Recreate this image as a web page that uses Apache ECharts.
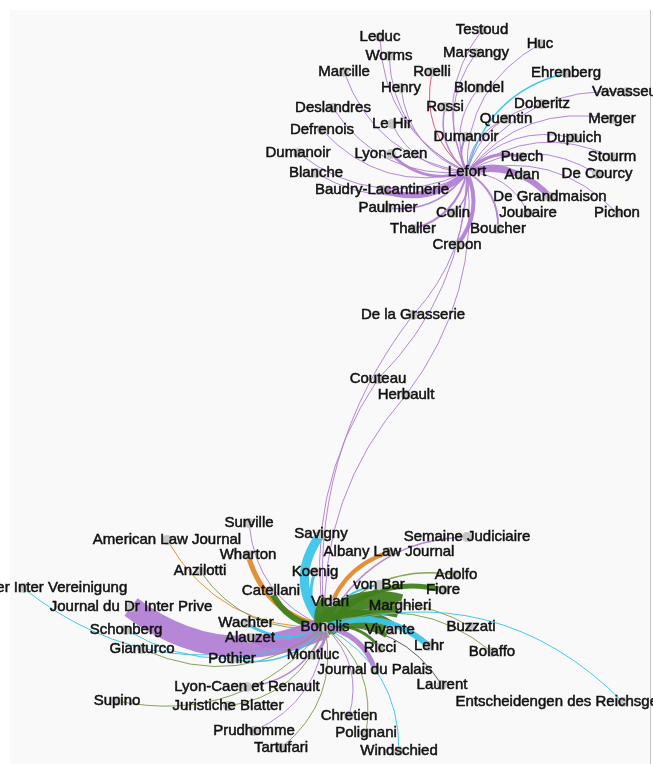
<!DOCTYPE html>
<html><head><meta charset="utf-8">
<script src="https://cdn.jsdelivr.net/npm/echarts@6/dist/echarts.min.js"></script>
<style>
html,body{margin:0;padding:0;background:#fff;overflow:hidden;}
#bg{position:absolute;left:10px;top:10px;width:640px;height:754px;background:#f9f9f9;border-right:1px solid #c4c4c4;}
#chart{position:absolute;left:0;top:0;width:653px;height:764px;}
</style></head><body><div id="bg"></div><div id="chart"></div>
<script>
// ---- nodes ----
const nodeIds = ["Lefort","Testoud","Leduc","Huc","Marsangy","Worms","Marcille","Roelli","Ehrenberg","Henry","Blondel","Vavasseur","Deslandres","Rossi","Doberitz","Quentin","Merger","Le Hir","Defrenois","Dumanoir","Dupuich","Dumanoir (2)","Lyon-Caen","Puech","Stourm","Blanche","Adan","De Courcy","Baudry-Lacantinerie","De Grandmaison","Paulmier","Joubaire","Pichon","Colin","Thaller","Boucher","Crepon","De la Grasserie","Couteau","Herbault","Bonolis","Surville","Savigny","Semaine Judiciaire","American Law Journal","Albany Law Journal","Wharton","Koenig","Adolfo","Anzilotti","Zeitschrift der Inter Vereinigung","Catellani","von Bar","Fiore","Journal du Dr Inter Prive","Vidari","Marghieri","Schonberg","Wachter","Buzzati","Alauzet","Vivante","Gianturco","Pothier","Montluc","Ricci","Lehr","Bolaffo","Journal du Palais","Laurent","Lyon-Caen et Renault","Entscheidengen des Reichsgerichts in Civilsachen","Supino","Juristiche Blatter","Chretien","Prudhomme","Polignani","Tartufari","Windschied"];
const nodeLabelOverride = {"Dumanoir (2)":"Dumanoir"};
const nodeX = [467,482,380,540,476,389,344,432,566,401,479,627,333,445,542,506,612,392,322,466,574,298,391,522,612,316,522,597,382,550,388,528,617,453,413,498,457,413,378,406,325,249,321,467,167,389,248,315,456,200,23,271,379,443,131,330,400,126,246,471,250,390,142,232,313,380,429,492,375,442,247,623,117,228,349,254,366,281,399];
const nodeY = [172,30,37,44,53,56,72,72,73,88,88,92,108,107,104,119,119,124,130,137,138,153,154,157,157,173,175,174,190,197,208,213,213,213,229,229,245,315,379,395,627,523,534,537,540,552,555,572,575,571,588,591,585,590,607,602,606,630,623,627,638,630,649,659,655,648,646,652,670,685,687,702,701,706,716,731,733,748,751];

// ---- edges ----
const edgeSource = ["Lefort","Lefort","Lefort","Lefort","Lefort","Lefort","Lefort","Lefort","Lefort","Lefort","Lefort","Lefort","Lefort","Lefort","Lefort","Lefort","Lefort","Lefort","Lefort","Lefort","Lefort","Lefort","Lefort","Lefort","Lefort","Lefort","Lefort","Lefort","Lefort","Lefort","Lefort","Lefort","Lefort","Lefort","Lefort","Lefort","Lefort","Lefort","Lefort",
 "Bonolis","Bonolis","Bonolis","Bonolis","Bonolis","Bonolis","Bonolis","Bonolis","Bonolis","Bonolis","Bonolis","Bonolis","Bonolis","Bonolis","Bonolis","Bonolis","Bonolis","Bonolis","Bonolis","Bonolis","Bonolis","Bonolis","Bonolis","Bonolis","Bonolis","Bonolis","Bonolis","Bonolis","Bonolis","Bonolis","Bonolis","Bonolis","Bonolis","Bonolis","Bonolis","Bonolis","Bonolis","Bonolis","Bonolis","Bonolis","Bonolis"];
const edgeTarget = ["Testoud","Leduc","Huc","Marsangy","Worms","Marcille","Roelli","Ehrenberg","Henry","Blondel","Vavasseur","Deslandres","Rossi","Doberitz","Quentin","Merger","Le Hir","Defrenois","Dumanoir","Dupuich","Dumanoir (2)","Lyon-Caen","Puech","Stourm","Blanche","Adan","De Courcy","Baudry-Lacantinerie","De Grandmaison","Paulmier","Joubaire","Pichon","Colin","Thaller","Boucher","Crepon","De la Grasserie","Couteau","Herbault",
 "De la Grasserie","Couteau","Herbault","Surville","Savigny","Semaine Judiciaire","American Law Journal","Albany Law Journal","Wharton","Koenig","Adolfo","Anzilotti","Zeitschrift der Inter Vereinigung","Catellani","von Bar","Fiore","Journal du Dr Inter Prive","Vidari","Marghieri","Schonberg","Wachter","Buzzati","Alauzet","Vivante","Gianturco","Pothier","Montluc","Ricci","Lehr","Bolaffo","Journal du Palais","Laurent","Lyon-Caen et Renault","Entscheidengen des Reichsgerichts in Civilsachen","Supino","Juristiche Blatter","Chretien","Prudhomme","Polignani","Tartufari","Windschied"];
const edgeWeight = [1,1,1,1,1,1,1,1.5,1,1,1,1,1.5,1,1,1,1,1,2,1,1,2.5,3,1,1,1.5,1,6,6,1.5,1,1,1.5,2,2,4,1,1,1,
 1,1,1,1,9,1.5,1,4,5,3,1.5,1,1,6,2,5,22,18,24,1,3,1,8,18,1,1.5,3,3,6,1,5,1,1.5,1,1,1,1,1,1,1,1];
const edgeGroup = ["p","p","p","p","p","p","r","c","p","p","p","p","p","p","p","p","p","p","p","p","p","p","p","p","p","p","p","p","p","p","p","p","p","p","p","p","p","p","p",
 "p","p","p","p","c","p","o","o","o","c","g","g","c","dg","c","dg","p","dg","dg","c","c","g","p","dg","g","c","p","dg","c","g","p","k","p","c","g","g","p","p","g","g","c"];

// ---- styling ----
const groupColor = {p:'#b181d4', c:'#3cc5ea', o:'#e08a2e', dg:'#417f1f', g:'#7e9e50', r:'#e2526e', k:'#555555'};
const curveOverride = {"De la Grasserie":0.2, "Couteau":0.2, "Herbault":0.2, "Savigny":0.4};

const nodes = nodeIds.map((id,i)=>({
  name:id, value:[nodeX[i],nodeY[i]],
  label:{formatter: nodeLabelOverride[id] || id}
}));
const links = edgeSource.map((s,i)=>({
  source:s, target:edgeTarget[i],
  lineStyle:{width:edgeWeight[i], color:groupColor[edgeGroup[i]],
    curveness: (edgeTarget[i] in curveOverride) ? curveOverride[edgeTarget[i]] : 0.3}
}));

const chart = echarts.init(document.getElementById('chart'), null, {renderer:'canvas'});
chart.setOption({
  backgroundColor:'transparent',
  animation:false,
  grid:{left:0,right:0,top:0,bottom:0},
  xAxis:{type:'value',min:0,max:653,show:false},
  yAxis:{type:'value',min:0,max:764,inverse:true,show:false},
  series:[{
    type:'graph',
    coordinateSystem:'cartesian2d',
    silent:true,
    data:nodes,
    links:links,
    symbol:'circle',
    symbolSize:10,
    itemStyle:{color:'#c6c6c6'},
    label:{show:true,position:'inside',color:'#111111',fontSize:15,
      textBorderColor:'#111111',textBorderWidth:0.5,
      fontFamily:'"Liberation Sans", Arial, sans-serif'},
    lineStyle:{curveness:0.3,opacity:0.95},
    emphasis:{disabled:true}
  }]
});
</script></body></html>
